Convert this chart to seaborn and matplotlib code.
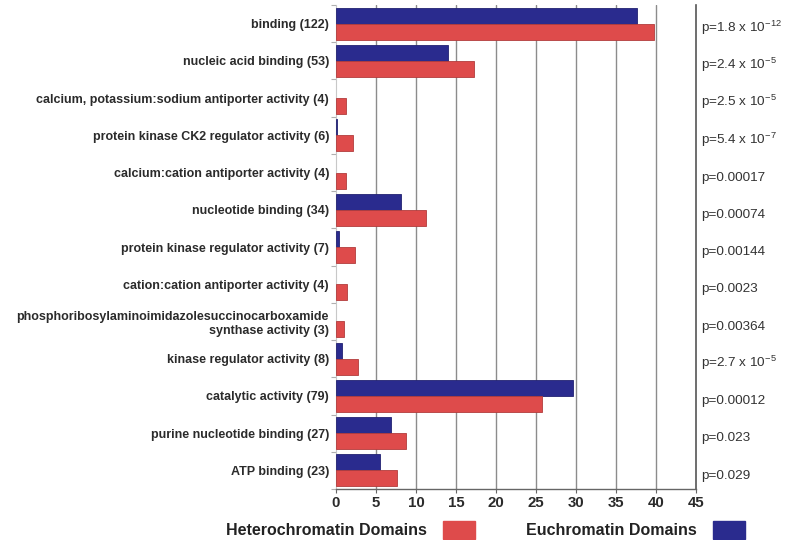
import numpy as np
import pandas as pd
import matplotlib
matplotlib.use("Agg")
import matplotlib.pyplot as plt
import seaborn as sns
from matplotlib.patches import Patch
from matplotlib.transforms import blended_transform_factory
from matplotlib.colors import to_rgb

# GO molecular-function terms (number of genes in parentheses)
categories = [
    "binding (122)",
    "nucleic acid binding (53)",
    "calcium, potassium:sodium antiporter activity (4)",
    "protein kinase CK2 regulator activity (6)",
    "calcium:cation antiporter activity (4)",
    "nucleotide binding (34)",
    "protein kinase regulator activity (7)",
    "cation:cation antiporter activity (4)",
    "phosphoribosylaminoimidazolesuccinocarboxamide\nsynthase activity (3)",
    "kinase regulator activity (8)",
    "catalytic activity (79)",
    "purine nucleotide binding (27)",
    "ATP binding (23)",
]
euchromatin = [37.6, 14.0, 0.0, 0.15, 0.0, 8.1, 0.4, 0.0, 0.0, 0.75, 29.6, 6.9, 5.5]
heterochromatin = [39.8, 17.3, 1.3, 2.1, 1.3, 11.2, 2.4, 1.4, 1.0, 2.7, 25.8, 8.8, 7.6]
p_labels = [
    "p=1.8 x 10$^{-12}$",
    "p=2.4 x 10$^{-5}$",
    "p=2.5 x 10$^{-5}$",
    "p=5.4 x 10$^{-7}$",
    "p=0.00017",
    "p=0.00074",
    "p=0.00144",
    "p=0.0023",
    "p=0.00364",
    "p=2.7 x 10$^{-5}$",
    "p=0.00012",
    "p=0.023",
    "p=0.029",
]
x_ticks = [0, 5, 10, 15, 20, 25, 30, 35, 40, 45]

series_names = ["Euchromatin Domains", "Heterochromatin Domains"]
colors = {"Euchromatin Domains": "#2a2b8e", "Heterochromatin Domains": "#de4b4b"}

df = pd.DataFrame({
    "term": categories * 2,
    "value": euchromatin + heterochromatin,
    "domain": [series_names[0]] * len(categories) + [series_names[1]] * len(categories),
})

sns.set_theme(style="white")
plt.rcParams["font.family"] = ["Liberation Sans", "DejaVu Sans"]
plt.rcParams["mathtext.fontset"] = "custom"
plt.rcParams["mathtext.rm"] = "Liberation Sans"
plt.rcParams["mathtext.it"] = "Liberation Sans:italic"
plt.rcParams["mathtext.bf"] = "Liberation Sans:bold"

fig = plt.figure(figsize=(7.85, 5.40), dpi=100)
ax = fig.add_axes([0.428, 0.0944, 0.4586, 0.8963])

sns.barplot(data=df, y="term", x="value", hue="domain", hue_order=series_names,
            palette=colors, orient="h", width=0.86, saturation=1, legend=False,
            ax=ax, zorder=3)

# darker outline on each bar
for p in ax.patches:
    fc = np.array(to_rgb(p.get_facecolor()))
    if p.get_width() > 0:
        p.set_edgecolor(fc * 0.8)
        p.set_linewidth(0.6)
    else:
        p.set_linewidth(0)

n = len(categories)
ax.set_xlim(x_ticks[0], x_ticks[-1])
ax.set_ylim(n - 0.5, -0.5)
ax.set_xlabel("")
ax.set_ylabel("")

# vertical grid lines
for t in x_ticks[1:-1]:
    ax.axvline(t, color="#8c8c8c", lw=1.0, zorder=1)

ax.set_xticks(x_ticks)
ax.set_xticklabels([str(t) for t in x_ticks], fontsize=10.8, fontweight="bold", color="#2b2b2b")
ax.tick_params(axis="x", bottom=True, length=3, width=0.8, color="#666666", pad=2)

ax.set_yticks(range(n))
ax.set_yticklabels(categories, fontsize=9.0, fontweight="bold", color="#2b2b2b")
ax.set_yticks(np.arange(-0.5, n, 1.0), minor=True)
ax.tick_params(axis="y", which="major", left=False, length=0, pad=5)
ax.tick_params(axis="y", which="minor", left=True, length=3.5, width=0.8, color="#b0b0b0")

ax.spines["top"].set_visible(False)
ax.spines["left"].set_color("#c8c8c8")
ax.spines["left"].set_linewidth(0.8)
ax.spines["right"].set_color("#555555")
ax.spines["right"].set_linewidth(1.2)
ax.spines["bottom"].set_color("#666666")
ax.spines["bottom"].set_linewidth(1.0)

# p-values beside each row
trans = blended_transform_factory(ax.transAxes, ax.transData)
for i, lab in enumerate(p_labels):
    ax.text(1.013, i + 0.22, lab, transform=trans, ha="left", va="baseline",
            fontsize=9.7, color="#333333", clip_on=False)

handles = [Patch(facecolor=colors[series_names[1]], edgecolor=colors[series_names[1]]),
           Patch(facecolor=colors[series_names[0]], edgecolor=colors[series_names[0]])]
fig.legend(handles=handles, labels=[series_names[1], series_names[0]],
           loc="center left", bbox_to_anchor=(0.288, 0.019), ncol=2,
           markerfirst=False, frameon=False, borderpad=0, borderaxespad=0,
           prop={"size": 11.5, "weight": "bold"}, labelcolor="#222222",
           handlelength=2.0, handleheight=1.4, handletextpad=1.0, columnspacing=3.2)

fig.savefig("out.png", dpi=100)
